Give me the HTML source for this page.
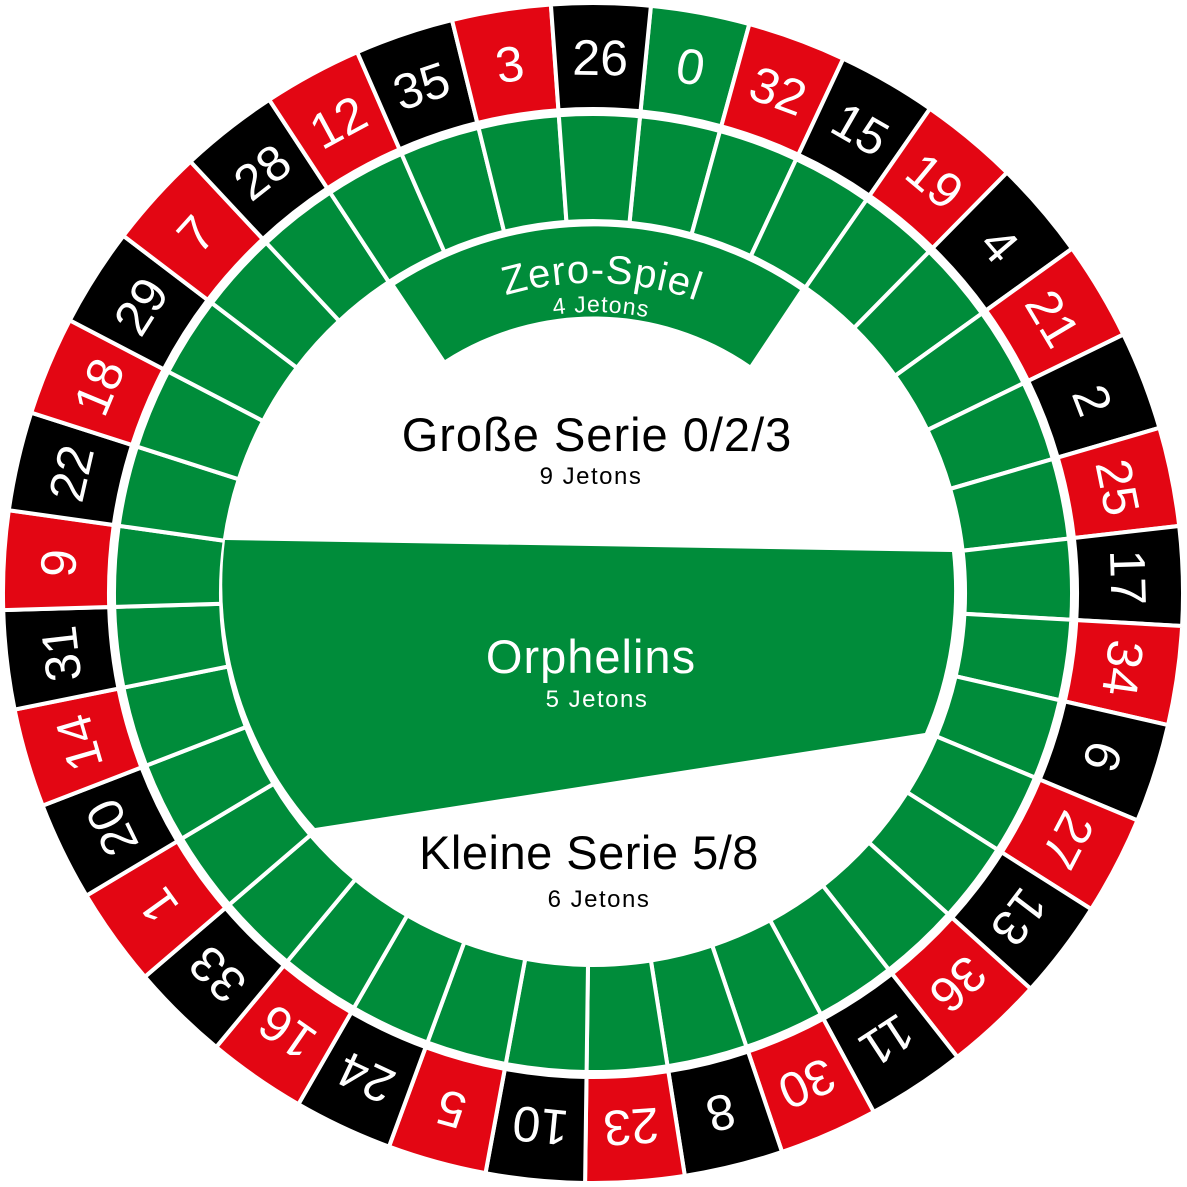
<!DOCTYPE html>
<html><head><meta charset="utf-8"><style>
html,body{margin:0;padding:0;background:#fff;width:1187px;height:1187px;overflow:hidden}
svg{display:block}
text{font-family:"Liberation Sans",sans-serif}
</style></head><body>
<svg width="1187" height="1187" viewBox="0 0 1187 1187" xmlns="http://www.w3.org/2000/svg">
<defs>
<path id="pk" d="M-50.0,-587.9 A590 590 0 0 1 50.0,-587.9 L41.0,-482.3 A484 484 0 0 0 -41.0,-482.3 Z" stroke="#fff" stroke-width="4"/>
<path id="gr" d="M-40.6,-477.3 A479 479 0 0 1 40.6,-477.3 L31.5,-370.7 A372 372 0 0 0 -31.5,-370.7 Z" fill="#008c3a" stroke="#fff" stroke-width="4"/>
<path id="zt" d="M393.7,355.4 A310 310 0 0 1 792.3,355.4"/>
<path id="jt" d="M412.4,377.8 A281 281 0 0 1 773.6,377.8"/>
</defs>
<g transform="translate(593 593)">
<g fill="#000">
<use href="#pk" transform="rotate(10.5)" fill="#008c3a"/>
<use href="#pk" transform="rotate(20.23)" fill="#e30613"/>
<use href="#pk" transform="rotate(29.96)"/>
<use href="#pk" transform="rotate(39.69)" fill="#e30613"/>
<use href="#pk" transform="rotate(49.42)"/>
<use href="#pk" transform="rotate(59.15)" fill="#e30613"/>
<use href="#pk" transform="rotate(68.88)"/>
<use href="#pk" transform="rotate(78.61)" fill="#e30613"/>
<use href="#pk" transform="rotate(88.34)"/>
<use href="#pk" transform="rotate(98.07)" fill="#e30613"/>
<use href="#pk" transform="rotate(107.80)"/>
<use href="#pk" transform="rotate(117.53)" fill="#e30613"/>
<use href="#pk" transform="rotate(127.26)"/>
<use href="#pk" transform="rotate(136.99)" fill="#e30613"/>
<use href="#pk" transform="rotate(146.72)"/>
<use href="#pk" transform="rotate(156.45)" fill="#e30613"/>
<use href="#pk" transform="rotate(166.18)"/>
<use href="#pk" transform="rotate(175.91)" fill="#e30613"/>
<use href="#pk" transform="rotate(185.63)"/>
<use href="#pk" transform="rotate(195.36)" fill="#e30613"/>
<use href="#pk" transform="rotate(205.09)"/>
<use href="#pk" transform="rotate(214.82)" fill="#e30613"/>
<use href="#pk" transform="rotate(224.55)"/>
<use href="#pk" transform="rotate(234.28)" fill="#e30613"/>
<use href="#pk" transform="rotate(244.01)"/>
<use href="#pk" transform="rotate(253.74)" fill="#e30613"/>
<use href="#pk" transform="rotate(263.47)"/>
<use href="#pk" transform="rotate(273.20)" fill="#e30613"/>
<use href="#pk" transform="rotate(282.93)"/>
<use href="#pk" transform="rotate(292.66)" fill="#e30613"/>
<use href="#pk" transform="rotate(302.39)"/>
<use href="#pk" transform="rotate(312.12)" fill="#e30613"/>
<use href="#pk" transform="rotate(321.85)"/>
<use href="#pk" transform="rotate(331.58)" fill="#e30613"/>
<use href="#pk" transform="rotate(341.31)"/>
<use href="#pk" transform="rotate(351.04)" fill="#e30613"/>
<use href="#pk" transform="rotate(360.77)"/>
</g>
<g>
<use href="#gr" transform="rotate(10.5)"/><use href="#gr" transform="rotate(20.23)"/><use href="#gr" transform="rotate(29.96)"/><use href="#gr" transform="rotate(39.69)"/><use href="#gr" transform="rotate(49.42)"/><use href="#gr" transform="rotate(59.15)"/><use href="#gr" transform="rotate(68.88)"/><use href="#gr" transform="rotate(78.61)"/><use href="#gr" transform="rotate(88.34)"/><use href="#gr" transform="rotate(98.07)"/><use href="#gr" transform="rotate(107.80)"/><use href="#gr" transform="rotate(117.53)"/><use href="#gr" transform="rotate(127.26)"/><use href="#gr" transform="rotate(136.99)"/><use href="#gr" transform="rotate(146.72)"/><use href="#gr" transform="rotate(156.45)"/><use href="#gr" transform="rotate(166.18)"/><use href="#gr" transform="rotate(175.91)"/><use href="#gr" transform="rotate(185.63)"/><use href="#gr" transform="rotate(195.36)"/><use href="#gr" transform="rotate(205.09)"/><use href="#gr" transform="rotate(214.82)"/><use href="#gr" transform="rotate(224.55)"/><use href="#gr" transform="rotate(234.28)"/><use href="#gr" transform="rotate(244.01)"/><use href="#gr" transform="rotate(253.74)"/><use href="#gr" transform="rotate(263.47)"/><use href="#gr" transform="rotate(273.20)"/><use href="#gr" transform="rotate(282.93)"/><use href="#gr" transform="rotate(292.66)"/><use href="#gr" transform="rotate(302.39)"/><use href="#gr" transform="rotate(312.12)"/><use href="#gr" transform="rotate(321.85)"/><use href="#gr" transform="rotate(331.58)"/><use href="#gr" transform="rotate(341.31)"/><use href="#gr" transform="rotate(351.04)"/><use href="#gr" transform="rotate(360.77)"/>
</g>
<g fill="#fff" font-size="50" text-anchor="middle" dominant-baseline="central">
<text y="-535" transform="rotate(10.5)">0</text>
<text y="-535" transform="rotate(20.23)">32</text>
<text y="-535" transform="rotate(29.96)">15</text>
<text y="-535" transform="rotate(39.69)">19</text>
<text y="-535" transform="rotate(49.42)">4</text>
<text y="-535" transform="rotate(59.15)">21</text>
<text y="-535" transform="rotate(68.88)">2</text>
<text y="-535" transform="rotate(78.61)">25</text>
<text y="-535" transform="rotate(88.34)">17</text>
<text y="-535" transform="rotate(98.07)">34</text>
<text y="-535" transform="rotate(107.80)">6</text>
<text y="-535" transform="rotate(117.53)">27</text>
<text y="-535" transform="rotate(127.26)">13</text>
<text y="-535" transform="rotate(136.99)">36</text>
<text y="-535" transform="rotate(146.72)">11</text>
<text y="-535" transform="rotate(156.45)">30</text>
<text y="-535" transform="rotate(166.18)">8</text>
<text y="-535" transform="rotate(175.91)">23</text>
<text y="-535" transform="rotate(185.63)">10</text>
<text y="-535" transform="rotate(195.36)">5</text>
<text y="-535" transform="rotate(205.09)">24</text>
<text y="-535" transform="rotate(214.82)">16</text>
<text y="-535" transform="rotate(224.55)">33</text>
<text y="-535" transform="rotate(234.28)">1</text>
<text y="-535" transform="rotate(244.01)">20</text>
<text y="-535" transform="rotate(253.74)">14</text>
<text y="-535" transform="rotate(263.47)">31</text>
<text y="-535" transform="rotate(273.20)">9</text>
<text y="-535" transform="rotate(282.93)">22</text>
<text y="-535" transform="rotate(292.66)">18</text>
<text y="-535" transform="rotate(302.39)">29</text>
<text y="-535" transform="rotate(312.12)">7</text>
<text y="-535" transform="rotate(321.85)">28</text>
<text y="-535" transform="rotate(331.58)">12</text>
<text y="-535" transform="rotate(341.31)">35</text>
<text y="-535" transform="rotate(351.04)">3</text>
<text y="-535" transform="rotate(360.77)">26</text>
</g>
</g>
<path d="M395,285 A366 366 0 0 1 800,290 L750,365 A276 276 0 0 0 445,360 Z" fill="#008c3a"/>
<path d="M225,540 L952,552 A362 362 0 0 1 925,733 L315,828 A365 365 0 0 1 225,540 Z" fill="#008c3a"/>
<text font-size="40" fill="#fff" text-anchor="middle" letter-spacing="1"><textPath href="#zt" startOffset="52%">Zero-Spiel</textPath></text>
<text font-size="23" fill="#fff" text-anchor="middle" letter-spacing="1"><textPath href="#jt" startOffset="52%">4 Jetons</textPath></text>
<text x="597" y="451" font-size="47" text-anchor="middle" fill="#000" letter-spacing="1">Große Serie 0/2/3</text>
<text x="591" y="484" font-size="24" text-anchor="middle" fill="#000" letter-spacing="1.5">9 Jetons</text>
<text x="591" y="673" font-size="47" text-anchor="middle" fill="#fff" letter-spacing="1">Orphelins</text>
<text x="597" y="707" font-size="24" text-anchor="middle" fill="#fff" letter-spacing="1.5">5 Jetons</text>
<text x="589" y="869" font-size="47" text-anchor="middle" fill="#000" letter-spacing="0.5">Kleine Serie 5/8</text>
<text x="599" y="907" font-size="24" text-anchor="middle" fill="#000" letter-spacing="1.5">6 Jetons</text>
</svg>
</body></html>
